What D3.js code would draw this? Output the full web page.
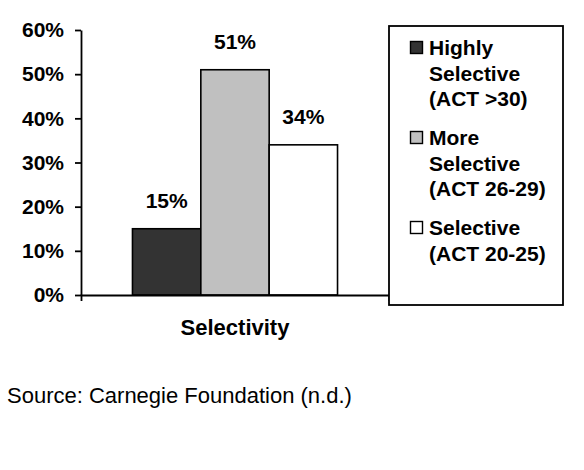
<!DOCTYPE html>
<html>
<head>
<meta charset="utf-8">
<script src="https://cdn.jsdelivr.net/npm/d3@7"></script>
<style>
  html, body { margin: 0; padding: 0; background: #fff; }
  svg { display: block; font-family: "Liberation Sans", Arial, sans-serif; }
</style>
</head>
<body>
<svg id="chart" width="584" height="470"></svg>
<script>
// Share of institutions by admissions selectivity
const category = ["Selectivity"];
const seriesNames = ["Highly Selective (ACT >30)", "More Selective (ACT 26-29)", "Selective (ACT 20-25)"];
const seriesValues = [0.15, 0.51, 0.34];
const seriesColors = ["#333333", "#c0c0c0", "#ffffff"];
const legendLines = [["Highly", "Selective", "(ACT >30)"], ["More", "Selective", "(ACT 26-29)"], ["Selective", "(ACT 20-25)"]];
const yTicks = [0, 0.1, 0.2, 0.3, 0.4, 0.5, 0.6];
const sourceNote = "Source: Carnegie Foundation (n.d.)";

const FS = 21;
const svg = d3.select("#chart");
const plot = { left: 81, right: 389, top: 30, bottom: 295 };

const y = d3.scaleLinear().domain([0, 0.6]).range([plot.bottom, plot.top]);
const xOuter = d3.scaleBand().domain(category).range([plot.left, plot.right])
  .paddingInner(0).paddingOuter(0.251);
const xInner = d3.scaleBand().domain(seriesNames).range([0, xOuter.bandwidth()]).padding(0);

// bars
const g = svg.append("g");
const barGroup = g.append("g").attr("transform", `translate(${xOuter("Selectivity")},0)`);
barGroup.selectAll("rect")
  .data(seriesNames.map((n, i) => ({ name: n, value: seriesValues[i], color: seriesColors[i] })))
  .join("rect")
  .attr("x", d => xInner(d.name))
  .attr("y", d => y(d.value))
  .attr("width", xInner.bandwidth())
  .attr("height", d => y(0) - y(d.value))
  .attr("fill", d => d.color)
  .attr("stroke", "#000")
  .attr("stroke-width", 1.6);

// value labels
barGroup.selectAll("text.val")
  .data(seriesNames.map((n, i) => ({ name: n, value: seriesValues[i] })))
  .join("text")
  .attr("class", "val")
  .attr("x", d => xInner(d.name) + xInner.bandwidth() / 2)
  .attr("y", d => y(d.value) - 21)
  .attr("text-anchor", "middle")
  .attr("font-size", FS)
  .attr("font-weight", "bold")
  .text(d => d3.format(".0%")(d.value));

// y axis
const yAxis = g.append("g").attr("transform", `translate(${plot.left},0)`)
  .call(d3.axisLeft(y).tickValues(yTicks).tickFormat(d3.format(".0%")).tickSize(6).tickPadding(11).tickSizeOuter(0));
yAxis.selectAll("text").attr("font-size", FS).attr("font-weight", "bold")
  .attr("font-family", "Liberation Sans, Arial, sans-serif").attr("fill", "#000");
yAxis.selectAll("line").attr("stroke", "#000").attr("stroke-width", 1.8);
yAxis.select(".domain").attr("stroke", "#000").attr("stroke-width", 1.8);

// x axis
const xAxis = g.append("g").attr("transform", `translate(0,${plot.bottom})`)
  .call(d3.axisBottom(d3.scaleLinear().domain([0, 1]).range([plot.left, plot.right]))
    .tickValues([]).tickSizeOuter(6));
xAxis.select(".domain").attr("stroke", "#000").attr("stroke-width", 1.8);

svg.append("text")
  .attr("x", xOuter("Selectivity") + xOuter.bandwidth() / 2)
  .attr("y", 335)
  .attr("text-anchor", "middle")
  .attr("font-size", 22)
  .attr("font-weight", "bold")
  .text(category[0]);

// legend
const legend = svg.append("g");
legend.append("rect")
  .attr("x", 389).attr("y", 26).attr("width", 174).attr("height", 279)
  .attr("fill", "#fff").attr("stroke", "#000").attr("stroke-width", 1.8);

const groupTops = [55, 145, 235];
seriesNames.forEach((n, i) => {
  legend.append("rect")
    .attr("x", 410.5).attr("y", groupTops[i] - 13.5)
    .attr("width", 12).attr("height", 12)
    .attr("fill", seriesColors[i]).attr("stroke", "#000").attr("stroke-width", 1.4);
  legendLines[i].forEach((line, j) => {
    legend.append("text")
      .attr("x", 429).attr("y", groupTops[i] + j * 25.7)
      .attr("font-size", FS).attr("font-weight", "bold")
      .text(line);
  });
});

// source note
svg.append("text")
  .attr("x", 7).attr("y", 403)
  .attr("font-size", 22)
  .text(sourceNote);
</script>
</body>
</html>
